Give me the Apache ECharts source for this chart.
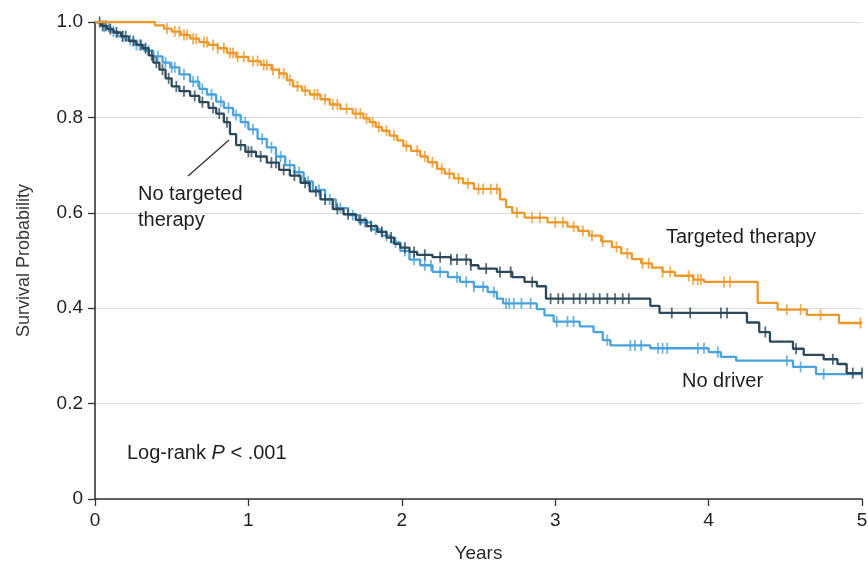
<!DOCTYPE html>
<html>
<head>
<meta charset="utf-8">
<script src="https://cdn.jsdelivr.net/npm/echarts@6/dist/echarts.min.js"></script>
<style>
html,body{margin:0;padding:0;background:#fff;}
#chart{width:868px;height:566px;}
</style>
</head>
<body>
<div id="chart"></div>
<script>
// ---- Data ----
const xTicks = [0, 1, 2, 3, 4, 5];
const yTicks = [0, 0.2, 0.4, 0.6, 0.8, 1.0];

// Targeted therapy (orange)
const targetedTime = [0, 0.39, 0.45, 0.5, 0.56, 0.62, 0.68, 0.74, 0.8, 0.86, 0.92, 1.0, 1.08, 1.15, 1.2, 1.25, 1.29, 1.35, 1.4, 1.47, 1.53, 1.6, 1.68, 1.75, 1.79, 1.83, 1.87, 1.92, 1.97, 2.01, 2.06, 2.12, 2.17, 2.23, 2.28, 2.34, 2.4, 2.47, 2.64, 2.68, 2.72, 2.8, 2.95, 3.08, 3.15, 3.22, 3.3, 3.37, 3.43, 3.5, 3.56, 3.63, 3.7, 3.78, 3.9, 3.97, 4.32, 4.45, 4.64, 4.85, 5.0];
const targetedSurv = [1.0, 0.993, 0.986, 0.98, 0.973, 0.965, 0.958, 0.952, 0.945, 0.935, 0.927, 0.918, 0.91, 0.9, 0.892, 0.878, 0.865, 0.856, 0.848, 0.838, 0.827, 0.818, 0.808, 0.798, 0.79, 0.78, 0.772, 0.762, 0.752, 0.74, 0.73, 0.718, 0.706, 0.692, 0.682, 0.672, 0.662, 0.65, 0.628, 0.612, 0.6, 0.59, 0.58, 0.571, 0.562, 0.552, 0.54, 0.528, 0.515, 0.503, 0.494, 0.485, 0.476, 0.468, 0.46, 0.455, 0.411, 0.397, 0.386, 0.369, 0.369];
const targetedCensor = [0.47, 0.52, 0.55, 0.58, 0.6, 0.64, 0.66, 0.71, 0.73, 0.77, 0.8, 0.84, 0.88, 0.9, 0.93, 0.97, 1.03, 1.06, 1.1, 1.12, 1.16, 1.2, 1.23, 1.27, 1.32, 1.37, 1.43, 1.45, 1.5, 1.55, 1.58, 1.64, 1.7, 1.73, 1.77, 1.81, 1.85, 1.9, 1.95, 2.03, 2.1, 2.15, 2.2, 2.26, 2.31, 2.37, 2.43, 2.5, 2.53, 2.58, 2.62, 2.75, 2.85, 2.9, 3.0, 3.05, 3.12, 3.18, 3.24, 3.31, 3.4, 3.47, 3.57, 3.61, 3.7, 3.75, 3.87, 3.9, 3.93, 3.95, 4.1, 4.14, 4.51, 4.6, 4.73, 4.99];

// No targeted therapy (dark slate)
const noTargetedTime = [0, 0.04, 0.08, 0.12, 0.17, 0.22, 0.27, 0.31, 0.35, 0.38, 0.42, 0.46, 0.5, 0.55, 0.62, 0.68, 0.74, 0.79, 0.84, 0.88, 0.92, 0.98, 1.05, 1.12, 1.2, 1.27, 1.34, 1.4, 1.47, 1.55, 1.62, 1.7, 1.77, 1.84, 1.9, 1.95, 1.99, 2.05, 2.1, 2.2, 2.32, 2.45, 2.5, 2.62, 2.72, 2.8, 2.88, 2.94, 3.62, 3.68, 4.25, 4.33, 4.4, 4.55, 4.62, 4.75, 4.84, 4.9, 5.0];
const noTargetedSurv = [1.0, 0.992, 0.985, 0.978, 0.97, 0.96, 0.952, 0.945, 0.93, 0.915, 0.9, 0.882, 0.865, 0.855, 0.845, 0.832, 0.82, 0.808, 0.79, 0.765, 0.742, 0.728, 0.718, 0.705, 0.69, 0.678, 0.663, 0.645, 0.628, 0.608, 0.597, 0.585, 0.572, 0.56, 0.548, 0.535, 0.527, 0.518, 0.512, 0.507, 0.502, 0.49, 0.483, 0.476, 0.465, 0.455, 0.446, 0.42, 0.405, 0.39, 0.37, 0.35, 0.33, 0.315, 0.302, 0.293, 0.283, 0.264, 0.264];
const noTargetedCensor = [0.03, 0.05, 0.07, 0.1, 0.14, 0.18, 0.2, 0.25, 0.3, 0.33, 0.37, 0.4, 0.44, 0.48, 0.53, 0.58, 0.65, 0.7, 0.77, 0.81, 0.86, 0.95, 1.0, 1.02, 1.08, 1.15, 1.18, 1.23, 1.3, 1.37, 1.44, 1.5, 1.58, 1.65, 1.73, 1.8, 1.87, 1.93, 2.02, 2.08, 2.15, 2.25, 2.32, 2.36, 2.42, 2.45, 2.55, 2.64, 2.71, 2.85, 2.97, 3.02, 3.05, 3.12, 3.16, 3.2, 3.25, 3.29, 3.34, 3.39, 3.44, 3.48, 3.76, 3.88, 4.08, 4.12, 4.37, 4.57, 4.81, 4.94, 5.0];

// No driver (light blue)
const noDriverTime = [0, 0.05, 0.1, 0.15, 0.2, 0.26, 0.32, 0.38, 0.44, 0.49, 0.55, 0.62, 0.68, 0.73, 0.79, 0.84, 0.9, 0.95, 1.0, 1.06, 1.12, 1.18, 1.24, 1.3, 1.36, 1.42, 1.5, 1.57, 1.65, 1.72, 1.8, 1.87, 1.93, 1.99, 2.05, 2.12, 2.2, 2.3, 2.38, 2.47, 2.56, 2.62, 2.66, 2.88, 2.93, 2.99, 3.16, 3.25, 3.31, 3.36, 3.62, 4.0, 4.08, 4.18, 4.55, 4.7, 5.0];
const noDriverSurv = [1.0, 0.99, 0.98, 0.97, 0.962, 0.952, 0.94, 0.928, 0.915, 0.905, 0.89, 0.875, 0.86, 0.848, 0.833, 0.82, 0.805, 0.79, 0.775, 0.755, 0.737, 0.718, 0.7, 0.685, 0.666, 0.648, 0.628, 0.61, 0.595, 0.58, 0.565, 0.552, 0.538, 0.52, 0.502, 0.49, 0.476, 0.465, 0.455, 0.445, 0.434, 0.42, 0.41, 0.398, 0.385, 0.372, 0.362, 0.35, 0.333, 0.322, 0.316, 0.308, 0.298, 0.29, 0.277, 0.262, 0.262];
const noDriverCensor = [0.06, 0.09, 0.12, 0.18, 0.23, 0.27, 0.29, 0.35, 0.41, 0.46, 0.5, 0.52, 0.58, 0.64, 0.67, 0.7, 0.76, 0.82, 0.87, 0.92, 0.98, 1.03, 1.09, 1.15, 1.21, 1.27, 1.33, 1.39, 1.46, 1.53, 1.6, 1.68, 1.76, 1.83, 1.9, 1.96, 2.02, 2.08, 2.15, 2.19, 2.25, 2.36, 2.42, 2.47, 2.53, 2.6, 2.68, 2.7, 2.73, 2.78, 2.84, 3.01, 3.08, 3.12, 3.34, 3.49, 3.52, 3.56, 3.67, 3.7, 3.73, 3.93, 3.97, 4.06, 4.51, 4.6, 4.75];

const seriesNames = ['No driver', 'No targeted therapy', 'Targeted therapy'];
const seriesColors = ['#4aa2dc', '#2c485a', '#ee982a'];

// ---- Helpers ----
function zip(t, s) { return t.map((v, i) => [v, s[i]]); }
function survAt(t, times, surv) {
  let v = surv[0];
  for (let i = 0; i < times.length; i++) { if (times[i] <= t) v = surv[i]; else break; }
  return v;
}
function censorPoints(c, times, surv) { return c.map(t => [t, survAt(t, times, surv)]); }

const groups = [
  { t: noDriverTime, s: noDriverSurv, c: noDriverCensor },
  { t: noTargetedTime, s: noTargetedSurv, c: noTargetedCensor },
  { t: targetedTime, s: targetedSurv, c: targetedCensor }
];

const FONT = '"Liberation Sans", Arial, sans-serif';
const series = [];
groups.forEach((g, i) => {
  series.push({
    name: seriesNames[i], type: 'line', step: 'end', data: zip(g.t, g.s),
    showSymbol: false, symbol: 'none', animation: false, z: 2 + i * 2,
    lineStyle: { color: seriesColors[i], width: 2.3 }
  });
  series.push({
    name: seriesNames[i] + ' censored', type: 'scatter', data: censorPoints(g.c, g.t, g.s),
    symbol: 'rect', symbolSize: [1.8, 11], animation: false, z: 3 + i * 2,
    itemStyle: { color: seriesColors[i] }
  });
});

const chart = echarts.init(document.getElementById('chart'), null, { renderer: 'canvas' });
chart.setOption({
  backgroundColor: '#ffffff',
  animation: false,
  grid: { left: 95, right: 6, top: 22, bottom: 67, outerBoundsMode: 'none', containLabel: false },
  xAxis: {
    type: 'value', min: 0, max: 5, interval: 1,
    name: 'Years', nameLocation: 'middle', nameGap: 45,
    nameTextStyle: { fontFamily: FONT, fontSize: 19, color: '#2a2a2a' },
    axisLine: { show: true, onZero: false, lineStyle: { color: '#333', width: 1.6 } },
    axisTick: { show: true, inside: false, length: 7, lineStyle: { color: '#333', width: 1.3 } },
    axisLabel: { fontFamily: FONT, fontSize: 19, color: '#222', margin: 12,
      formatter: v => xTicks.includes(v) ? String(v) : '' },
    splitLine: { show: false }
  },
  yAxis: {
    type: 'value', min: 0, max: 1, interval: 0.2,
    name: 'Survival Probability', nameLocation: 'middle', nameGap: 62, nameRotate: 90,
    nameTextStyle: { fontFamily: FONT, fontSize: 18, color: '#3a3a3a' },
    axisLine: { show: true, lineStyle: { color: '#333', width: 1.6 } },
    axisTick: { show: true, inside: false, length: 7, lineStyle: { color: '#333', width: 1.3 } },
    axisLabel: { fontFamily: FONT, fontSize: 19, color: '#222', margin: 12,
      formatter: v => { const y = yTicks.find(k => Math.abs(k - v) < 1e-6); return y === undefined ? '' : (y === 0 ? '0' : y.toFixed(1)); } },
    splitLine: { show: true, lineStyle: { color: '#dcdcdc', width: 1.2 } }
  },
  series: series,
  graphic: [
    { type: 'line', shape: { x1: 188, y1: 176, x2: 229, y2: 140 }, style: { stroke: '#333', lineWidth: 1.3 }, z: 20 },
    { type: 'text', left: 138, top: 181, style: { text: 'No targeted\ntherapy', font: '20px ' + FONT, fill: '#1e1e1e', lineHeight: 26 }, z: 20 },
    { type: 'text', left: 666, top: 227, style: { text: 'Targeted therapy', font: '20px ' + FONT, fill: '#1e1e1e' }, z: 20 },
    { type: 'text', left: 682, top: 371, style: { text: 'No driver', font: '20px ' + FONT, fill: '#1e1e1e' }, z: 20 },
    { type: 'text', left: 127, top: 443, style: {
        text: '{a|Log-rank }{i|P}{a| < .001}',
        rich: { a: { fontFamily: FONT, fontSize: 20, fill: '#1e1e1e', color: '#1e1e1e' },
                i: { fontFamily: FONT, fontSize: 20, fontStyle: 'italic', fill: '#1e1e1e', color: '#1e1e1e' } } }, z: 20 }
  ]
});
</script>
</body>
</html>
